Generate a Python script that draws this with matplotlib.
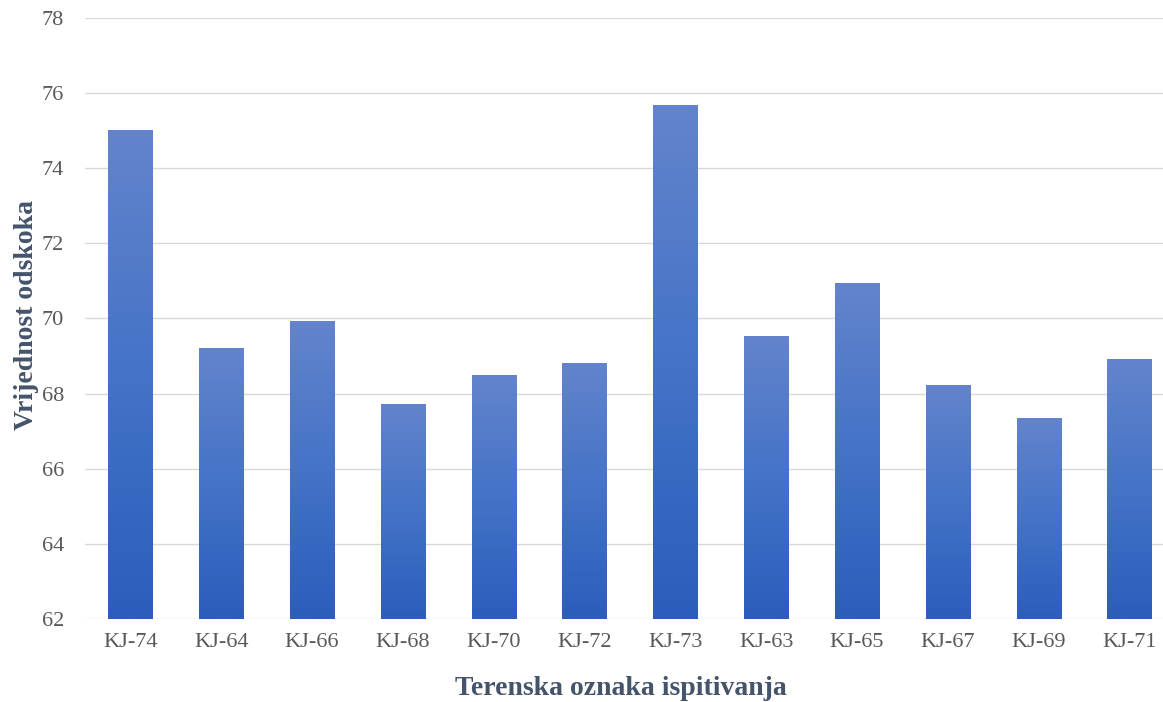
import matplotlib.pyplot as plt
import numpy as np
from matplotlib.colors import LinearSegmentedColormap

labels = ["KJ-74", "KJ-64", "KJ-66", "KJ-68", "KJ-70", "KJ-72",
          "KJ-73", "KJ-63", "KJ-65", "KJ-67", "KJ-69", "KJ-71"]
values = [75.0, 69.19, 69.93, 67.72, 68.47, 68.79,
          75.66, 69.53, 70.92, 68.22, 67.34, 68.90]

plt.rcParams["font.family"] = ["Liberation Serif", "DejaVu Serif"]

fig = plt.figure(figsize=(11.63, 7.02), dpi=100)
ax = fig.add_axes([0.0731, 0.1182, 0.937, 0.8562])

ymin, ymax = 62, 78
x = np.arange(len(labels))
width = 0.485

# gradient per bar: darker at the base, lighter at the top
grad_cmap = LinearSegmentedColormap.from_list("bar", ["#2d5cbc", "#4473c7", "#6384cc"])
grad = np.linspace(0, 1, 256).reshape(-1, 1)
bars = ax.bar(x, np.array(values) - ymin, bottom=ymin, width=width,
              color="none", edgecolor="none", zorder=2)
for b in bars:
    x0, y0 = b.get_x(), b.get_y()
    ax.imshow(grad, extent=(x0, x0 + b.get_width(), y0, y0 + b.get_height()),
              origin="lower", cmap=grad_cmap, aspect="auto", zorder=2)

ax.set_xlim(-0.5, len(labels) - 0.5)
ax.set_ylim(ymin, ymax)
ax.set_yticks(np.arange(62, 79, 2))
ax.set_xticks(x)
ax.set_xticklabels(labels)

ax.grid(axis="y", color="#d9d9d9", lw=1.0, zorder=0)
ax.set_axisbelow(True)
for s in ax.spines.values():
    s.set_visible(False)
ax.tick_params(axis="both", length=0, colors="#595959", labelsize=16)
ax.tick_params(axis="y", pad=15)
ax.tick_params(axis="x", pad=10)

ax.set_xlabel("Terenska oznaka ispitivanja", fontsize=20, fontweight="bold",
              color="#44546a", labelpad=17)
ax.set_ylabel("Vrijednost odskoka", fontsize=20, fontweight="bold",
              color="#44546a", labelpad=2)
ax.xaxis.label.set_x(0.492)
ax.yaxis.label.set_y(0.506)

fig.savefig("out.png", dpi=100)
